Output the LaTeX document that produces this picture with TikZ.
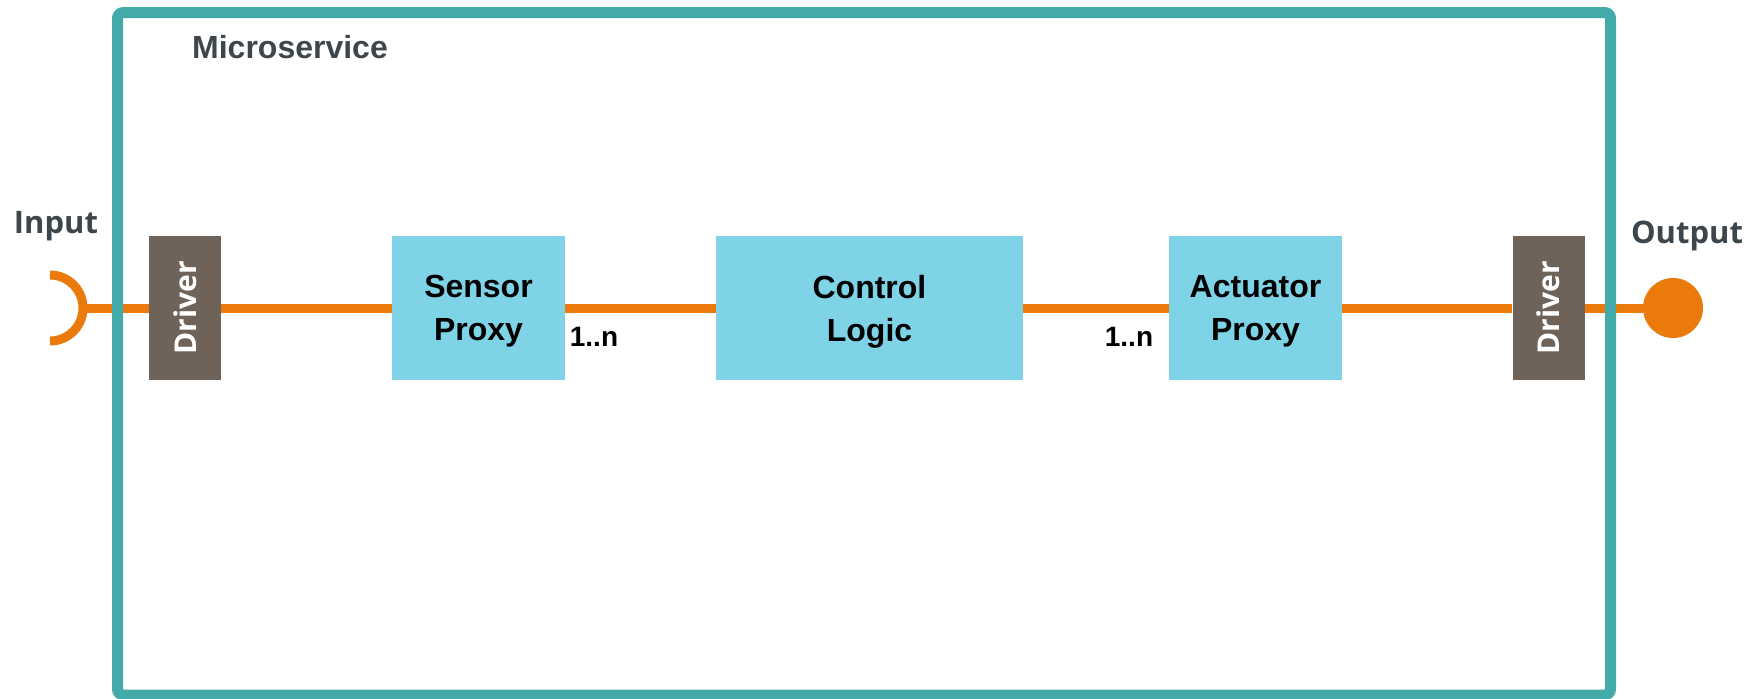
\documentclass[tikz,border=0pt]{standalone}
\usepackage{fontspec}
\setmainfont{Liberation Sans}
\newfontfamily\labelfont{Open Sans}
\definecolor{frameteal}{RGB}{66,170,168}
\definecolor{wireorange}{RGB}{234,122,11}
\definecolor{driverbrown}{RGB}{111,99,89}
\definecolor{proxyblue}{RGB}{126,211,230}
\definecolor{titlegray}{RGB}{60,70,76}
\tikzset{
  wire/.style={draw=wireorange, line width=4.5pt},
  driverbox/.style={fill=driverbrown, minimum width=36pt, minimum height=72pt, inner sep=0pt},
  drivertext/.style={text=white, rotate=90, font=\labelfont\bfseries\fontsize{15}{15}\selectfont},
  proxybox/.style={fill=proxyblue, minimum height=72pt, inner sep=0pt, align=center,
    text depth=0pt, font=\bfseries\fontsize{16}{21.5}\selectfont},
  portlabel/.style={text=titlegray, font=\labelfont\bfseries\fontsize{15.5}{15.5}\selectfont},
  multiplicity/.style={font=\bfseries\fontsize{14}{14}\selectfont}
}
\begin{document}
\begin{tikzpicture}[x=0.5pt,y=-0.5pt]
\useasboundingbox (0,0) rectangle (1751,698);

% building blocks along the signal path
\node[driverbox] (drvL) at (185,308) {};
\node[drivertext] (drvLtext) at (drvL.center) {Driver};
\node[proxybox, minimum width=86.5pt] (sensor) at (478.5,308) {Sensor\\Proxy};
\node[proxybox, minimum width=153.5pt] (logic) at (869.5,308) {Control\\Logic};
\node[proxybox, minimum width=86.5pt] (actuator) at (1255.5,308) {Actuator\\Proxy};
\node[driverbox] (drvR) at (1548.5,308) {};
\node[drivertext] (drvRtext) at (drvR.center) {Driver};

% input socket and output ball
\coordinate (sockTop) at (50,275);
\coordinate (sock) at (83,308);
\node[circle, fill=wireorange, minimum size=30pt, inner sep=0pt] (outdot) at (1673,308) {};

% wiring
\draw[wire] (sockTop) arc[start angle=90, end angle=-90, radius=16.5pt];
\draw[wire] (sock) -- (drvL.west);
\draw[wire] (drvL.east) -- (sensor.west);
\draw[wire] (sensor.east) -- (logic.west);
\draw[wire] (logic.east) -- (actuator.west);
\draw[wire] (actuator.east) -- (drvR.west);
\draw[wire] (drvR.east) -- (outdot.west);

% microservice boundary
\draw[frameteal, line width=5.5pt, rounded corners=3pt] (117.5,12.5) rectangle (1610.5,695);

% labels
\node[portlabel] (inLabel) at (56,226) {Input};
\node[portlabel] (outLabel) at (1687,236) {Output};
\node[text=titlegray, font=\bfseries\fontsize{16}{16}\selectfont] (title) at (290,47) {Microservice};
\node[multiplicity] (mulS) at (594,337) {1..n};
\node[multiplicity] (mulA) at (1129,337) {1..n};
\end{tikzpicture}
\end{document}
